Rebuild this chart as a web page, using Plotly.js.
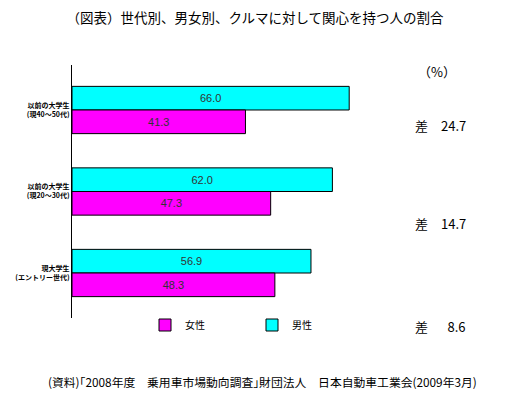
<!DOCTYPE html>
<html><head><meta charset="utf-8">
<script src="https://cdn.plot.ly/plotly-3.0.1.min.js"></script>
<style>html,body{margin:0;padding:0;background:#fff}#c{width:509px;height:396px}</style>
</head><body><div id="c"></div>
<script>
const categories = ["以前の大学生<br>(現40～50代)", "以前の大学生<br>(現20～30代)", "現大学生<br>(エントリー世代)"];
const female = [41.3, 47.3, 48.3];
const male = [66.0, 62.0, 56.9];
const diffs = ["24.7", "14.7", "8.6"];
const seriesNames = ["女性", "男性"];

const W = 509, H = 396, L = 72, R = 17, T = 65, B = 78;
const PH = H - T - B;
const yp = px => (H - B - px) / PH;
const xp = px => (px - L) / (W - L - R);
const jp = '"Noto Sans CJK JP", sans-serif';

const traces = [
  {type:'bar', orientation:'h', name: seriesNames[1], y: categories, x: male,
   marker:{color:'#00FFFF', line:{color:'#000', width:1}},
   text: male.map(v=>v.toFixed(1)), textposition:'inside', insidetextanchor:'middle',
   textfont:{family:'Arial, sans-serif', size:11, color:'#333'}, hoverinfo:'none', cliponaxis:false},
  {type:'bar', orientation:'h', name: seriesNames[0], y: categories, x: female,
   marker:{color:'#FF00FF', line:{color:'#000', width:1}},
   text: female.map(v=>v.toFixed(1)), textposition:'inside', insidetextanchor:'middle',
   textfont:{family:'Arial, sans-serif', size:11, color:'#333'}, hoverinfo:'none', cliponaxis:false}
];

const diffY = [125, 224, 326];
const annotations = [
  {text:'（%）', xref:'paper', yref:'paper', x:xp(437), y:yp(72), xanchor:'center', yanchor:'middle', showarrow:false, font:{family:jp, size:13, color:'#000'}}
].concat(diffs.map((d,i)=>({
  text:'差　' + (d.length < 4 ? '\u2002' : '') + d, xref:'paper', yref:'paper', x:xp(413), y:yp(diffY[i]),
  xanchor:'left', yanchor:'middle', showarrow:false, font:{family:jp, size:13, color:'#000'}
}))).concat([
  {text:'(資料)｢2008年度　乗用車市場動向調査｣財団法人　日本自動車工業会(2009年3月)', xref:'paper', yref:'paper',
   x:xp(262), y:yp(381), xanchor:'center', yanchor:'middle', showarrow:false, font:{family:jp, size:11.8, color:'#000'}}
]);

const layout = {
  width:W, height:H, margin:{l:L, r:R, t:T, b:B},
  paper_bgcolor:'#fff', plot_bgcolor:'#fff',
  title:{text:'（図表）世代別、男女別、クルマに対して関心を持つ人の割合', font:{family:jp, size:13.5, color:'#000'},
         x:xp(255), xref:'paper', xanchor:'center', y:1 - 18/H, yanchor:'middle'},
  barmode:'group', bargap:0.42, bargroupgap:0,
  xaxis:{range:[0,100], visible:false, fixedrange:true},
  yaxis:{type:'category', categoryorder:'array', categoryarray:categories,
         range:[2.552, -0.552], showline:true, linecolor:'#000', linewidth:1,
         ticks:'', showgrid:false, zeroline:false,
         tickfont:{family:jp, size:7, color:'#000', weight:'bold'}},
  showlegend:true,
  legend:{orientation:'h', x:xp(145), y:yp(325), xanchor:'left', yanchor:'middle',
          entrywidth:62, font:{family:jp, size:10, color:'#000'}, traceorder:'reversed',
          itemwidth:30, bgcolor:'rgba(0,0,0,0)'},
  annotations: annotations
};

Plotly.newPlot('c', traces, layout, {staticPlot:true, displayModeBar:false});
</script></body></html>
